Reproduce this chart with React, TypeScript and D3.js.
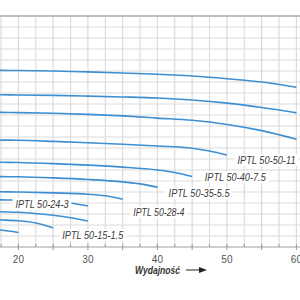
import React from 'react';
import * as d3 from 'd3';

// pump curves: [flow, head]
const curve5080 = [[15, 80.4], [17.5, 80.3], [20, 80.2], [25, 80.0], [30, 79.6], [35, 79.1], [40, 78.5], [45, 77.7], [50, 76.5], [55, 75.0], [60, 72.6]];
const curve5070 = [[15, 69.3], [17.5, 69.2], [20, 69.1], [25, 68.9], [30, 68.6], [35, 68.2], [40, 67.7], [45, 66.8], [50, 65.4], [55, 63.4], [60, 61.0]];
const curve5060 = [[15, 61.3], [17.5, 61.2], [20, 61.1], [25, 60.8], [30, 60.3], [35, 59.6], [40, 58.6], [45, 57.6], [50, 55.7], [55, 52.9], [60, 49.0]];
const curve5050 = [[15, 48.7], [17.5, 48.6], [20, 48.5], [25, 48.0], [30, 47.4], [35, 46.7], [40, 45.9], [45, 44.9], [47.5, 43.6], [50, 41.8]];
const curve5040 = [[15, 38.6], [17.5, 38.5], [20, 38.4], [25, 37.9], [30, 37.2], [35, 36.3], [40, 35.0], [42.5, 33.9], [45, 32.0]];
const curve5035 = [[15, 32.1], [17.5, 32.0], [20, 31.9], [25, 31.4], [30, 30.7], [35, 29.6], [37.5, 28.7], [40, 27.2]];
const curve5028 = [[15, 25.2], [17.5, 25.1], [20, 25.0], [25, 24.6], [30, 24.0], [32.5, 23.3], [35, 21.7]];
const curve5024 = [[15, 21.6], [17.5, 21.4], [20, 21.3], [25, 20.6], [27.5, 20.0], [30, 18.6]];
const curve5020 = [[15, 16.3], [17.5, 16.0], [20, 15.8], [25, 14.4], [27.5, 13.3], [30, 11.8]];
const curve5018 = [[15, 12.6], [17.5, 12.3], [20, 11.9], [22.5, 10.9], [25, 8.7]];
const curve5015 = [[15, 8.6], [17.5, 7.7], [20, 6.6]];

const curves = [curve5080, curve5070, curve5060, curve5050, curve5040, curve5035, curve5028, curve5024, curve5020, curve5018, curve5015];

const labelNames = ['IPTL 50-50-11', 'IPTL 50-40-7.5', 'IPTL 50-35-5.5', 'IPTL 50-28-4', 'IPTL 50-24-3', 'IPTL 50-15-1.5'];
const labelFlow = [55.7, 51.2, 46.0, 40.2, 23.4, 30.7];
const labelHead = [39.5, 31.7, 24.4, 16.0, 19.5, 5.45];
const labelWidth = [58, 61, 61, 51, 53, 61];

const flowTicks = [20, 30, 40, 50, 60];

export default function App() {
    const width = 300;
    const height = 300;

    const x = d3.scaleLinear().domain([20, 60]).range([18.4, 296.4]);
    const y = d3.scaleLinear().domain([0, 105]).range([247, 16]);

    const line = d3.line<number[]>()
        .x(d => x(d[0]))
        .y(d => y(d[1]))
        .curve(d3.curveMonotoneX);

    const vGrid = d3.range(17.5, 63, 2.5);
    const hGrid = d3.range(5, 105, 5);

    return (
        <svg width={width} height={height} style={{ position: 'fixed', left: 0, top: 0, background: '#fff' }}>
            <defs>
                <clipPath id="plot">
                    <rect x={0} y={y(105)} width={width} height={y(0) - y(105)} />
                </clipPath>
            </defs>

            {/* grid */}
            <g stroke="#dcdcdc" strokeWidth={1.2}>
                {vGrid.map(v => (
                    <line key={'v' + v} x1={x(v)} x2={x(v)} y1={y(105)} y2={y(0)} />
                ))}
                {hGrid.map(h => (
                    <line key={'h' + h} x1={0} x2={width} y1={y(h)} y2={y(h)} />
                ))}
            </g>
            <line x1={0} x2={width} y1={y(105)} y2={y(105)} stroke="#bdbdbd" strokeWidth={2} />

            {/* x axis */}
            <line x1={0} x2={width} y1={y(0)} y2={y(0)} stroke="#a0a0a0" strokeWidth={1.2} />
            <g stroke="#999">
                {vGrid.map(v => (
                    <line key={'t' + v} x1={x(v)} x2={x(v)} y1={y(0) - 3} y2={v % 5 === 0 ? y(0) + 3 : y(0)} />
                ))}
            </g>
            {flowTicks.map(t => (
                <text key={'l' + t} x={x(t)} y={262.5} textAnchor="middle" fontSize={10}
                    fontFamily="'Liberation Sans', Arial, sans-serif" fill="#555">{t}</text>
            ))}
            <text x={135} y={274} fontSize={10} fontWeight="bold" fontStyle="italic"
                fontFamily="'Liberation Sans Narrow', 'Liberation Sans', sans-serif" fill="#333"
                textLength={45} lengthAdjust="spacingAndGlyphs">Wydajność</text>
            <line x1={186} x2={200} y1={270} y2={270} stroke="#222" strokeWidth={1} />
            <path d="M199,267 L207,270 L199,273 Z" fill="#222" />

            {/* curves */}
            <g clipPath="url(#plot)">
                {curves.map((c, i) => (
                    <path key={'c' + i} d={line(c) || ''} fill="none" stroke="#3d8fd1" strokeWidth={1.6} />
                ))}
            </g>

            {/* labels */}
            {labelNames.map((name, i) => {
                const cx = x(labelFlow[i]);
                const cy = y(labelHead[i]);
                const w = labelWidth[i];
                return (
                    <g key={name}>
                        <rect x={cx - w / 2 - 3} y={cy - 6} width={w + 6} height={12} fill="#fff" />
                        <text x={cx} y={cy + 4} textAnchor="middle" fontSize={11} fontStyle="italic"
                            fontFamily="'Liberation Sans Narrow', 'Liberation Sans', sans-serif" fill="#3a3a3a"
                            textLength={w} lengthAdjust="spacingAndGlyphs">{name}</text>
                    </g>
                );
            })}
        </svg>
    );
}
